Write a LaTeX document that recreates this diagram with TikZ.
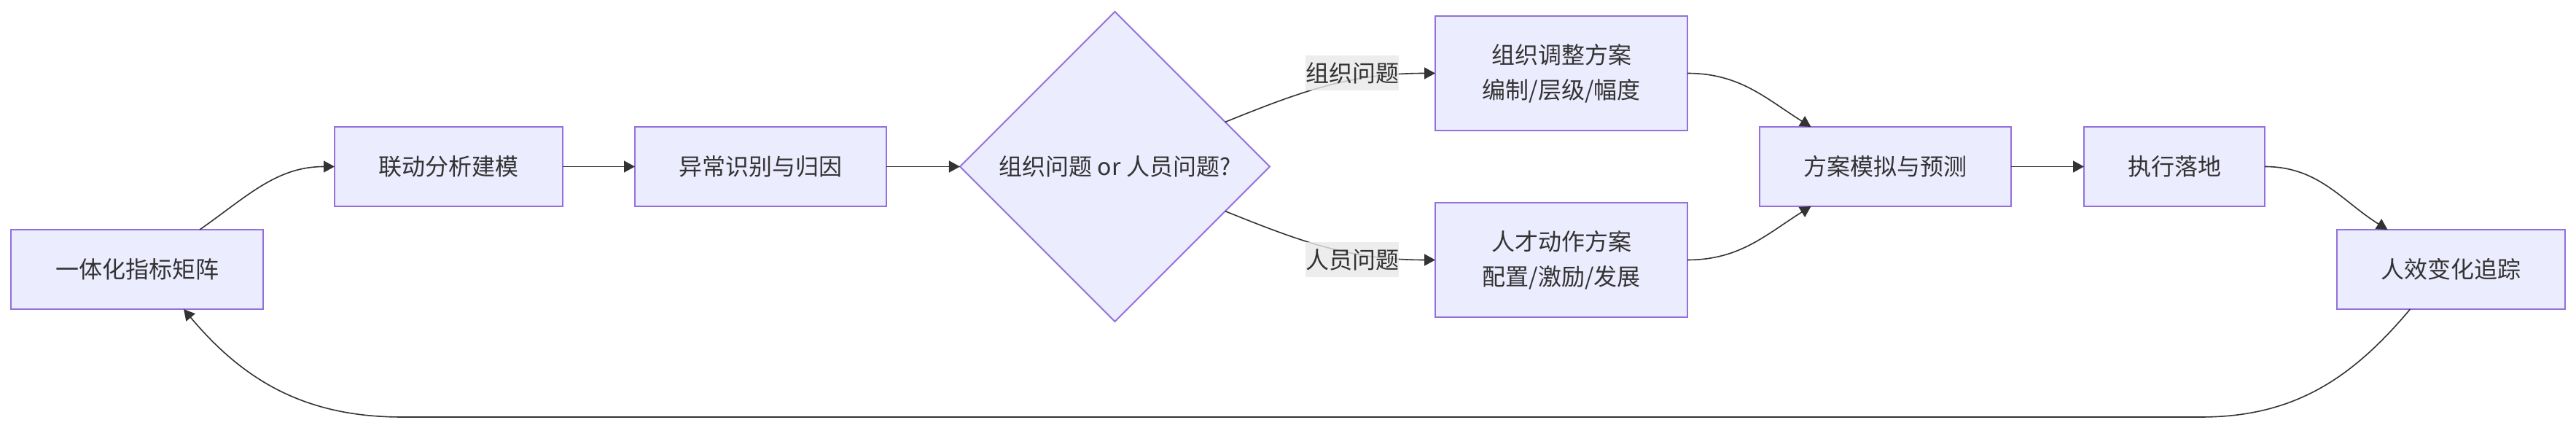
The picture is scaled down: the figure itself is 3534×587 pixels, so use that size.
\documentclass[tikz,border=0pt]{standalone}
\usepackage{fontspec}
\setmainfont{Noto Sans CJK SC}
\usepackage{tikz}
\usetikzlibrary{arrows.meta, positioning, shapes.geometric, calc}
\usepackage{xcolor}
\definecolor{boxfill}{HTML}{ECECFF}
\definecolor{boxline}{HTML}{9370DB}
\definecolor{edgecol}{HTML}{333333}
\definecolor{txtcol}{HTML}{333333}
\definecolor{lblbg}{HTML}{E8E8E8}

\begin{document}
\begin{tikzpicture}[
  x=0.5pt, y=0.5pt,
  box/.style={draw=boxline, line width=1pt, fill=boxfill, text=txtcol, minimum height=54.5pt,
    inner xsep=30pt, outer sep=0pt, align=center, font=\fontsize{16pt}{24pt}\selectfont},
  dec/.style={diamond, draw=boxline, line width=1pt, fill=boxfill, text=txtcol, outer sep=0pt,
    minimum width=212.5pt, minimum height=212.5pt, inner sep=0pt, font=\fontsize{16pt}{24pt}\selectfont},
  lbl/.style={fill=lblbg, fill opacity=0.8, text opacity=1, text=txtcol, inner sep=0pt,
    outer sep=0pt, minimum height=24pt, font=\fontsize{16pt}{24pt}\selectfont},
  arr/.style={-{Triangle[length=7.5pt,width=8pt]}, line width=0.8pt, draw=edgecol}
]
\useasboundingbox (0,0) rectangle (3534,-587);

\node[box, minimum width=173pt] (mat) at (188,-369.5) {一体化指标矩阵};
\node[box, minimum width=156.5pt, right=49pt of mat, yshift=70.5pt] (mdl) {联动分析建模};
\node[box, minimum width=172.5pt, right=49.5pt of mdl] (abn) {异常识别与归因};
\node[dec, right=50.5pt of abn] (dia) {组织问题 or 人员问题?};
\node[box, minimum width=173pt, minimum height=78.5pt, right=113.5pt of dia, yshift=64pt] (org) {组织调整方案\\编制/层级/幅度};
\node[box, minimum width=173pt, minimum height=78.5pt, right=113.5pt of dia, yshift=-64pt] (tal) {人才动作方案\\配置/激励/发展};
\node[box, minimum width=172.5pt, right=49.5pt of org, yshift=-64pt] (sim) {方案模拟与预测};
\node[box, minimum width=124pt, right=50pt of sim] (exe) {执行落地};
\node[box, minimum width=156.5pt, right=49.5pt of exe, yshift=-70.5pt] (trk) {人效变化追踪};

\draw[arr] ([xshift=43pt]mat.north) to[out=35,in=180] (mdl.west);
\draw[arr] (mdl) -- (abn);
\draw[arr] (abn) -- (dia);
\draw[arr] (dia.22) to[out=22,in=180] (org.west);
\node[lbl, left=25pt of org] (lorg) {组织问题};
\draw[arr] (dia.-22) to[out=-22,in=180] (tal.west);
\node[lbl, left=25pt of tal] (ltal) {人员问题};
\draw[arr] (org.east) to[out=0,in=148] ([xshift=-51pt]sim.north);
\draw[arr] (tal.east) to[out=0,in=-148] ([xshift=-51pt]sim.south);
\draw[arr] (sim) -- (exe);
\draw[arr] (exe.east) to[out=0,in=148] ([xshift=-43.5pt]trk.north);

% feedback loop
\coordinate (loopR) at (3019,-572);
\coordinate (loopL) at (552,-572);
\draw[arr] ([xshift=-28pt]trk.south) to[out=-130,in=0] (loopR) -- (loopL)
  to[out=180,in=-50] ([xshift=32pt]mat.south);
\end{tikzpicture}
\end{document}
